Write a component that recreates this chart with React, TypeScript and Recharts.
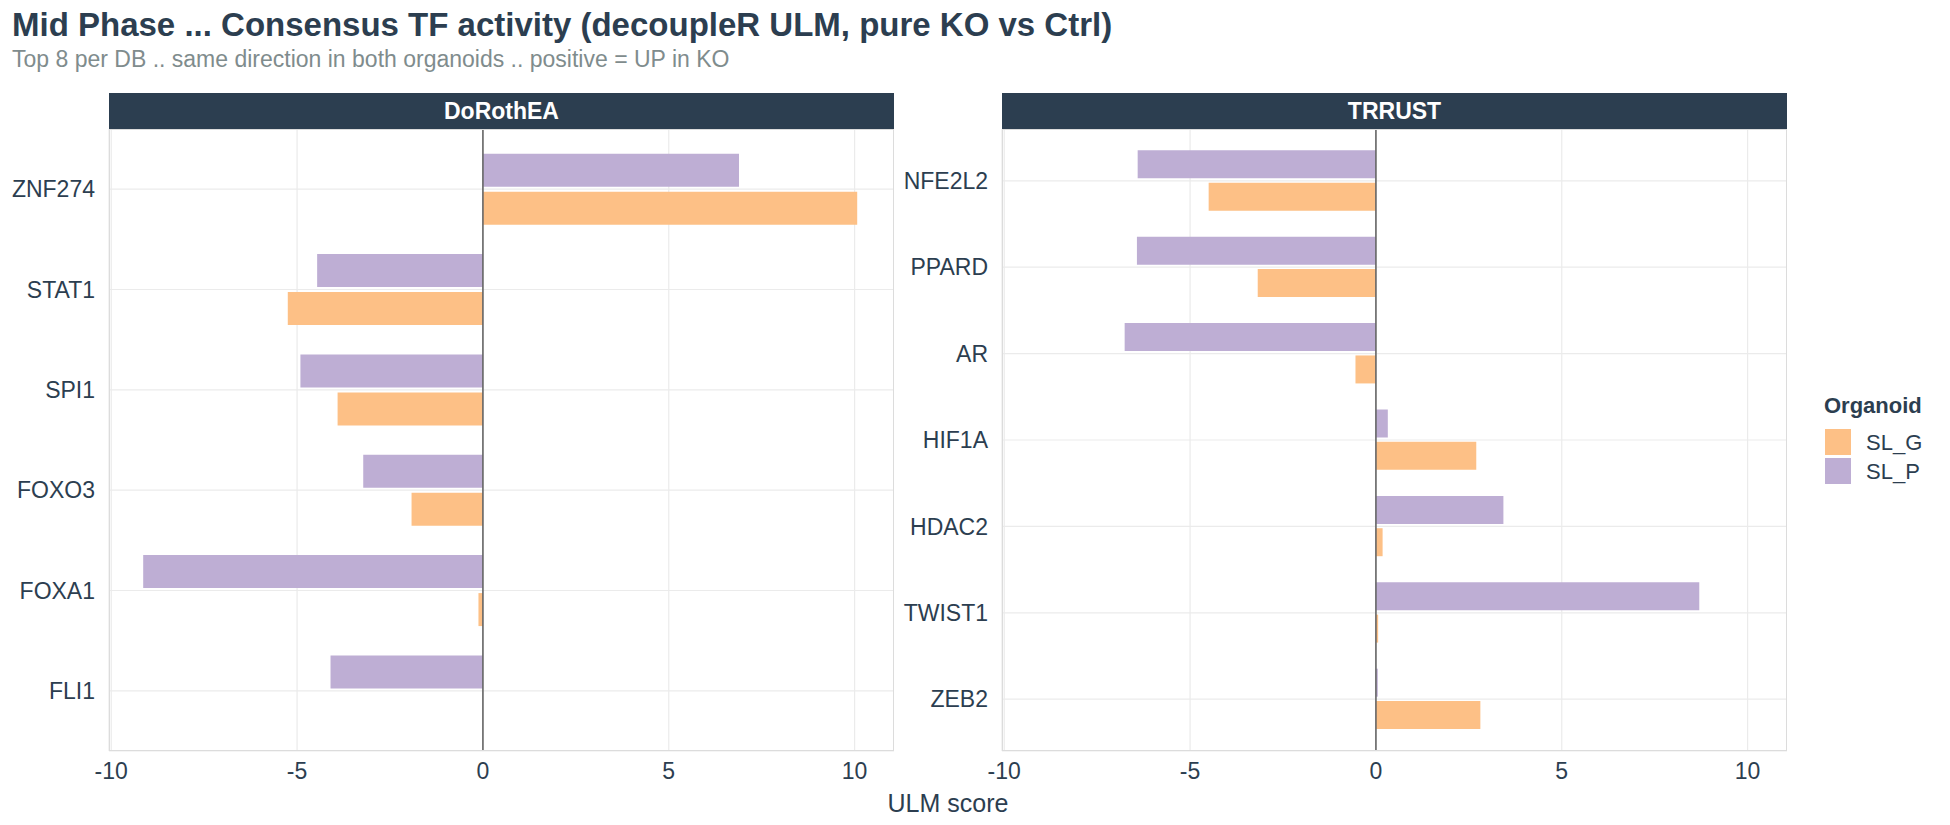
import React from 'react'
import { Bar, BarChart, CartesianGrid, ReferenceLine, XAxis, YAxis } from 'recharts'

// DoRothEA panel
const dorotheaTFs = ['ZNF274', 'STAT1', 'SPI1', 'FOXO3', 'FOXA1', 'FLI1']
const dorotheaSLG = [10.07, -5.25, -3.91, -1.92, -0.12, 0]
const dorotheaSLP = [6.89, -4.46, -4.91, -3.22, -9.14, -4.1]

// TRRUST panel
const trrustTFs = ['NFE2L2', 'PPARD', 'AR', 'HIF1A', 'HDAC2', 'TWIST1', 'ZEB2']
const trrustSLG = [-4.5, -3.18, -0.55, 2.7, 0.18, 0.06, 2.81]
const trrustSLP = [-6.41, -6.43, -6.76, 0.32, 3.43, 8.7, 0.05]

const xTicks = [-10, -5, 0, 5, 10]
const xDomain: [number, number] = [-10.06, 11.06]

const organoids = ['SL_G', 'SL_P']
const colors: Record<string, string> = { SL_G: '#FDC086', SL_P: '#BEAED4' }

const FONT = '"Liberation Sans", Arial, Helvetica, sans-serif'
const INK = '#2c3e50'

const PANEL_TOP = 129
const PANEL_H = 622
const PANEL_W = 785
const Y_AXIS_W = 110
const X_AXIS_H = 60

function toRows(tfs: string[], slg: number[], slp: number[]) {
  return tfs.map((tf, i) => ({ tf, SL_G: slg[i], SL_P: slp[i] }))
}

function Panel({ title, rows, left }: { title: string; rows: { tf: string; SL_G: number; SL_P: number }[]; left: number }) {
  const band = PANEL_H / (rows.length + 0.2)
  const pad = band * 0.1
  return (
    <>
      <div
        style={{
          position: 'absolute',
          left,
          top: 93,
          width: PANEL_W,
          height: 36,
          background: INK,
          color: '#fff',
          fontFamily: FONT,
          fontWeight: 700,
          fontSize: 23,
          lineHeight: '36px',
          textAlign: 'center',
        }}
      >
        {title}
      </div>
      <div style={{ position: 'absolute', left: left - Y_AXIS_W, top: PANEL_TOP }}>
        <BarChart
          layout="vertical"
          width={Y_AXIS_W + PANEL_W}
          height={PANEL_H + X_AXIS_H}
          data={rows}
          margin={{ top: 0, right: 0, bottom: 0, left: 0 }}
          barCategoryGap="14.7%"
          barGap="5%"
        >
          <CartesianGrid stroke="#ebebeb" strokeWidth={1.2} />
          <XAxis
            type="number"
            domain={xDomain}
            ticks={xTicks}
            allowDataOverflow
            height={X_AXIS_H}
            axisLine={false}
            tickLine={false}
            tickSize={0}
            tickMargin={12}
            tick={{ fill: INK, fontSize: 23, fontFamily: FONT }}
          />
          <YAxis
            type="category"
            dataKey="tf"
            width={Y_AXIS_W}
            padding={{ top: pad, bottom: pad }}
            axisLine={false}
            tickLine={false}
            tickSize={0}
            tickMargin={14}
            interval={0}
            tick={{ fill: INK, fontSize: 23, fontFamily: FONT }}
          />
          <Bar dataKey="SL_P" fill={colors.SL_P} isAnimationActive={false} />
          <Bar dataKey="SL_G" fill={colors.SL_G} isAnimationActive={false} />
          <ReferenceLine x={0} stroke="#666666" strokeWidth={1.6} />
        </BarChart>
      </div>
      <div
        style={{
          position: 'absolute',
          left,
          top: PANEL_TOP,
          width: PANEL_W,
          height: PANEL_H,
          border: '1px solid #dcdcdc',
          boxSizing: 'border-box',
          pointerEvents: 'none',
        }}
      />
    </>
  )
}

export default function App() {
  const dorothea = toRows(dorotheaTFs, dorotheaSLG, dorotheaSLP)
  const trrust = toRows(trrustTFs, trrustSLG, trrustSLP)
  return (
    <div style={{ position: 'absolute', left: 0, top: 0, width: 1950, height: 825, background: '#fff', fontFamily: FONT }}>
      <svg width={1950} height={825} style={{ position: 'absolute', left: 0, top: 0 }}>
        <text x={12} y={36} fill={INK} fontSize={33} fontWeight={700} fontFamily={FONT}>
          Mid Phase ... Consensus TF activity (decoupleR ULM, pure KO vs Ctrl)
        </text>
        <text x={12} y={67} fill="#7f8c8d" fontSize={23} fontFamily={FONT}>
          Top 8 per DB .. same direction in both organoids .. positive = UP in KO
        </text>
        <text x={948} y={812} fill={INK} fontSize={25} fontFamily={FONT} textAnchor="middle">
          ULM score
        </text>
        <text x={1824} y={413} fill={INK} fontSize={22} fontWeight={700} fontFamily={FONT}>
          Organoid
        </text>
        {organoids.map((o, i) => (
          <g key={o}>
            <rect x={1825} y={429 + i * 29} width={26} height={26} fill={colors[o]} />
            <text x={1866} y={450 + i * 29} fill={INK} fontSize={22} fontFamily={FONT}>
              {o}
            </text>
          </g>
        ))}
      </svg>
      <Panel title="DoRothEA" rows={dorothea} left={109} />
      <Panel title="TRRUST" rows={trrust} left={1002} />
    </div>
  )
}
